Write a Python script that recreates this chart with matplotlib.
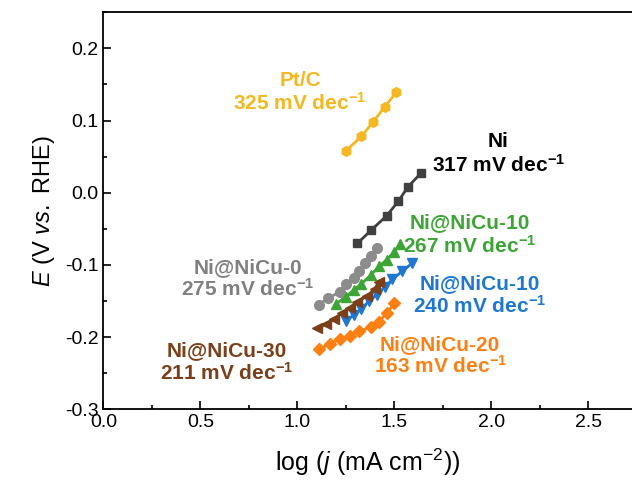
import matplotlib.pyplot as plt
from matplotlib.ticker import MultipleLocator

plt.rcParams['font.family'] = ['Liberation Sans', 'DejaVu Sans']
plt.rcParams['mathtext.fontset'] = 'custom'
plt.rcParams['mathtext.rm'] = 'Liberation Sans'
plt.rcParams['mathtext.it'] = 'Liberation Sans:italic'
plt.rcParams['mathtext.bf'] = 'Liberation Sans:bold'

# Tafel data: log(j) vs E for each catalyst
pt_x = [1.25, 1.33, 1.39, 1.45, 1.51]
pt_y = [0.058, 0.078, 0.098, 0.119, 0.139]

ni_x = [1.31, 1.38, 1.46, 1.52, 1.57, 1.64]
ni_y = [-0.070, -0.052, -0.032, -0.012, 0.008, 0.028]

nicu0_x = [1.11, 1.16, 1.22, 1.25, 1.29, 1.32, 1.35, 1.38, 1.41]
nicu0_y = [-0.155, -0.146, -0.137, -0.127, -0.118, -0.108, -0.098, -0.087, -0.076]

nicu10g_x = [1.20, 1.25, 1.29, 1.33, 1.38, 1.42, 1.46, 1.50, 1.53]
nicu10g_y = [-0.154, -0.144, -0.135, -0.126, -0.114, -0.102, -0.093, -0.082, -0.071]

nicu10b_x = [1.25, 1.29, 1.33, 1.37, 1.41, 1.45, 1.49, 1.54, 1.59]
nicu10b_y = [-0.177, -0.170, -0.161, -0.150, -0.141, -0.131, -0.120, -0.109, -0.098]

nicu20_x = [1.11, 1.17, 1.22, 1.27, 1.32, 1.38, 1.42, 1.46, 1.50]
nicu20_y = [-0.217, -0.209, -0.203, -0.198, -0.192, -0.186, -0.179, -0.167, -0.153]

nicu30_x = [1.10, 1.15, 1.19, 1.23, 1.27, 1.31, 1.36, 1.40, 1.42]
nicu30_y = [-0.188, -0.182, -0.175, -0.167, -0.159, -0.151, -0.143, -0.133, -0.123]

series = [
    (pt_x, pt_y, '#F5B820', 'h'),
    (ni_x, ni_y, '#404040', 's'),
    (nicu0_x, nicu0_y, '#8C8C8C', 'o'),
    (nicu10g_x, nicu10g_y, '#3DA535', '^'),
    (nicu10b_x, nicu10b_y, '#1E78D2', 'v'),
    (nicu20_x, nicu20_y, '#FF8012', 'D'),
    (nicu30_x, nicu30_y, '#7B3F1A', '<'),
]

# labels: name, slope, colour, position (x, y of first line, y of second line)
labels = [
    ('Pt/C', '325', '#F5B820', 1.014, 0.156, 0.125),
    ('Ni', '317', '#000000', 2.035, 0.071, 0.039),
    ('Ni@NiCu-10', '267', '#3DA535', 1.890, -0.042, -0.074),
    ('Ni@NiCu-0', '275', '#808080', 0.746, -0.104, -0.133),
    ('Ni@NiCu-10', '240', '#1E78D2', 1.942, -0.126, -0.157),
    ('Ni@NiCu-30', '211', '#7B3F1A', 0.638, -0.219, -0.250),
    ('Ni@NiCu-20', '163', '#FF8012', 1.736, -0.210, -0.240),
]

fig = plt.figure(figsize=(6.32, 4.88), dpi=100)
# x range runs past the right edge of the figure
ax = fig.add_axes([0.1635, 0.1613, 0.8595, 0.8135])

for x, y, c, m in series:
    ms = 6 if m in ('D', 's') else 7
    ax.plot(x, y, color=c, marker=m, markersize=ms, linewidth=2)

for name, slope, c, tx, ty1, ty2 in labels:
    ax.text(tx, ty1, name, color=c, fontsize=15, fontweight='bold',
            ha='center', va='center')
    ax.text(tx, ty2, slope + r' mV dec$^{\mathbf{-1}}$', color=c, fontsize=15,
            fontweight='bold', ha='center', va='center')

ax.set_xlim(0, 2.8)
ax.set_ylim(-0.3, 0.25)
ax.xaxis.set_major_locator(MultipleLocator(0.5))
ax.xaxis.set_minor_locator(MultipleLocator(0.25))
ax.yaxis.set_major_locator(MultipleLocator(0.1))
ax.yaxis.set_minor_locator(MultipleLocator(0.05))
ax.xaxis.set_major_formatter(plt.FormatStrFormatter('%.1f'))
ax.yaxis.set_major_formatter(plt.FormatStrFormatter('%.1f'))
ax.tick_params(which='both', direction='in', labelsize=14, width=1.2)
ax.tick_params(which='major', length=6)
ax.tick_params(which='minor', length=3)
for s in ax.spines.values():
    s.set_linewidth(1.3)

ax.set_xlabel(r'log ($j$ (mA cm$^{-2}$))', fontsize=18)
ax.xaxis.set_label_coords(0.487, -0.095)
ax.set_ylabel(r'$E$ (V $vs.$ RHE)', fontsize=17, labelpad=6)

fig.savefig('out.png', dpi=100)
